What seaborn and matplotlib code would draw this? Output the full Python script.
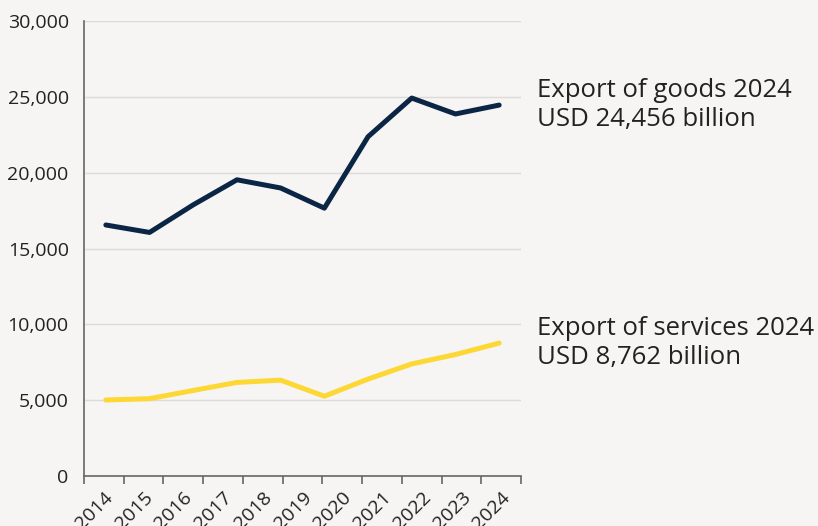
import matplotlib
matplotlib.use("Agg")
import matplotlib.pyplot as plt
import matplotlib.transforms as mtransforms
from matplotlib.ticker import FuncFormatter
import seaborn as sns
import pandas as pd

# Data
years = [2015, 2016, 2017, 2018, 2019, 2020, 2021, 2022, 2023, 2024]
goods = [16550, 16060, 17880, 19530, 18990, 17660, 22370, 24920, 23870, 24456]
services = [5010, 5100, 5640, 6170, 6320, 5260, 6390, 7390, 8010, 8762]
axis_labels = ["2014", "2015", "2016", "2017", "2018", "2019", "2020", "2021", "2022", "2023", "2024"]
series_names = ["Export of goods", "Export of services"]
label_goods = "Export of goods 2024\nUSD 24,456 billion"
label_services = "Export of services 2024\nUSD 8,762 billion"

BG = "#f6f5f3"
NAVY = "#0b2545"
YELLOW = "#fdd835"
TEXT = "#222222"

sns.set_theme(style="white")
plt.rcParams["font.family"] = ["Open Sans", "DejaVu Sans"]

df = pd.DataFrame({
    "pos": list(range(len(years))) * 2,
    "value": goods + services,
    "series": [series_names[0]] * len(years) + [series_names[1]] * len(years),
})

fig = plt.figure(figsize=(8.18, 5.26), dpi=100, facecolor=BG)
ax = fig.add_axes([84 / 818, 50 / 526, 437 / 818, 455 / 526])
ax.set_facecolor(BG)

sns.lineplot(data=df, x="pos", y="value", hue="series",
             palette={series_names[0]: NAVY, series_names[1]: YELLOW},
             linewidth=3.6, legend=False, ax=ax, zorder=3)
ax.set_xlim(-0.5, len(years) - 0.5)
ax.set_ylim(0, 30000)
ax.set_yticks(range(0, 30001, 5000))
ax.yaxis.set_major_formatter(FuncFormatter(lambda v, p: f"{int(v):,}"))
ax.grid(axis="y", color="#dcdbd9", linewidth=1.0, zorder=0)
ax.set_xticks([])
ax.set_xlabel("")
ax.set_ylabel("")
ax.tick_params(axis="y", length=0, labelsize=14, labelcolor=TEXT, pad=11)
for s in ["top", "right"]:
    ax.spines[s].set_visible(False)
for s in ["left", "bottom"]:
    ax.spines[s].set_color("#666666")
    ax.spines[s].set_linewidth(1.2)

# category axis for labels (11 bands)
ax2 = ax.twiny()
ax2.set_xlim(-0.5, len(axis_labels) - 0.5)
ax2.xaxis.set_ticks_position("bottom")
ax2.xaxis.set_label_position("bottom")
ax2.set_xticks([i - 0.5 for i in range(len(axis_labels) + 1)])
ax2.set_xticklabels([])
ax2.set_xticks(range(len(axis_labels)), minor=True)
ax2.set_xticklabels(axis_labels, minor=True, rotation=45, ha="right",
                    rotation_mode="anchor", fontsize=14, color=TEXT)
ax2.tick_params(axis="x", which="major", length=6, width=1.2, color="#666666", direction="out")
ax2.tick_params(axis="x", which="minor", length=0, pad=9)
for s in ax2.spines.values():
    s.set_visible(False)

# annotations
trans = mtransforms.blended_transform_factory(ax.transAxes, ax.transData)
ax.text(1 + 16 / 437, goods[-1], label_goods, transform=trans, va="center", ha="left",
        fontsize=18.5, color=TEXT, linespacing=1.25, clip_on=False)
ax.text(1 + 16 / 437, services[-1], label_services, transform=trans, va="center", ha="left",
        fontsize=18.5, color=TEXT, linespacing=1.25, clip_on=False)

fig.savefig("out.png", dpi=100, facecolor=BG)
